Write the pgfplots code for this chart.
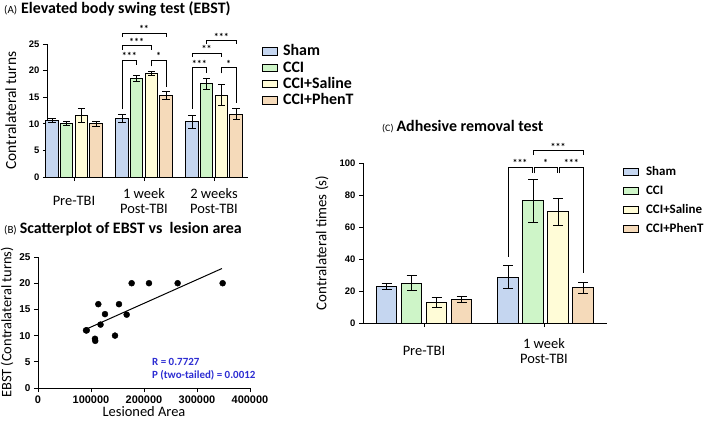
\documentclass[border=0pt]{standalone}
\usepackage{pgfplots}
\usepackage{pgfplotstable}
\pgfplotsset{compat=1.18}
\usepackage{fontspec}
\setmainfont{Carlito}
\newfontfamily\arialf{Liberation Sans}
\definecolor{cSham}{RGB}{197,214,240}
\definecolor{cCCI}{RGB}{206,245,200}
\definecolor{cSal}{RGB}{255,252,215}
\definecolor{cPhen}{RGB}{245,218,186}
\definecolor{cBlue}{RGB}{45,45,210}
\newcommand{\fs}[1]{\fontsize{#1}{#1}\selectfont}
% bracket: x1, y1 (left leg end), x2, y2 (right leg end), ytop, xmid, label
\newcommand{\brk}[7]{%
  \draw[line width=0.9bp] (axis cs:#1,#2) -- (axis cs:#1,#5) -- (axis cs:#3,#5) -- (axis cs:#3,#4);
  \node[font=\bfseries\fs{10}, anchor=south, inner sep=0.3bp] at (axis cs:#6,#5) {#7};}
\pgfplotsset{
  panel/.style={scale only axis, anchor=south west, axis lines=left,
    axis line style={line width=1bp,-}, tick style={black,line width=1bp},
    major tick length=4bp, tick align=outside, clip=false,
    /pgf/number format/assume math mode=true,
    yticklabel style={font=\arialf\bfseries\fs{9.5}},
  },
  barser/.style={ybar, bar shift=0pt, draw=black, line width=1bp,
    error bars/.cd, y dir=both, y explicit,
    error bar style={line width=1bp, black},
    error mark options={rotate=90, mark size=#1, line width=1bp, black}},
  boxlegend/.style={legend image code/.code={\draw[##1, draw=black, line width=0.8bp] (0bp,-3.5bp) rectangle (15bp,4bp);}},
}
% Panel A data: x (axis px), value, error
\pgfplotstableread{
x y e
5 10.6 0.4
75 11.0 0.7
145 10.4 1.2
}\aSham
\pgfplotstableread{
x y e
19.7 10.0 0.4
89.7 18.5 0.6
159.7 17.5 1.1
}\aCCI
\pgfplotstableread{
x y e
34.3 11.5 1.3
104.3 19.4 0.4
174.3 15.4 2.0
}\aSal
\pgfplotstableread{
x y e
49 10.0 0.5
119 15.3 0.8
189 11.8 1.0
}\aPhen
% Panel C data
\pgfplotstableread{
x y e
23.5 22.8 2.0
145.1 28.5 7.2
}\cSham
\pgfplotstableread{
x y e
48.5 25.0 4.8
170.1 76.5 13.5
}\cCCI
\pgfplotstableread{
x y e
73.5 12.8 3.0
195.1 69.4 8.7
}\cSal
\pgfplotstableread{
x y e
98.5 14.7 1.6
220.1 22.0 3.4
}\cPhen
\begin{document}
\begin{tikzpicture}
\path[use as bounding box] (0,0) rectangle (709bp,-421bp);
% titles
\node[anchor=west, inner sep=0] at (4bp,-9bp) {{\fs{11}(A)}\hspace{4bp}{\bfseries\fs{16}Elevated body swing test (EBST)}};
\node[anchor=west, inner sep=0] at (4bp,-229bp) {{\fs{11}(B)}\hspace{3bp}{\bfseries\fs{16}Scatterplot of EBST vs\ \ lesion area}};
\node[anchor=west, inner sep=0] at (382bp,-127bp) {{\fs{10}(C)}\hspace{3bp}{\bfseries\fs{16}Adhesive removal test}};

% ---------------- Panel A
\begin{axis}[panel, at={(47bp,-177bp)}, width=201bp, height=133bp,
  xmin=0, xmax=201, ymin=0, ymax=25,
  xtick={27,97,167}, xticklabels={Pre-TBI, 1 week\\Post-TBI, 2 weeks\\Post-TBI},
  xticklabel style={align=center, anchor=center, yshift=-20bp, font=\fs{14.5}},
  ytick={0,5,10,15,20,25},
  ylabel={Contralateral turns},
  ylabel style={at={(axis description cs:-0.18,0.5)}, anchor=center, font=\fs{15.5}},
  boxlegend,
  legend cell align=left,
  legend style={at={(1.07,1.0)}, anchor=north west, draw=none, fill=none,
    font=\bfseries\fs{16}, inner sep=0pt, row sep=1.3bp,
    nodes={inner sep=1bp, text height=10.5bp, text depth=2.5bp},
    /tikz/every odd column/.append style={column sep=4bp}},
]
\addplot[fill=cSham, bar width=12.5, barser=3.5bp] table[x=x,y=y,y error=e]{\aSham};
\addplot[fill=cCCI, bar width=12.5, barser=3.5bp] table[x=x,y=y,y error=e]{\aCCI};
\addplot[fill=cSal, bar width=12.5, barser=3.5bp] table[x=x,y=y,y error=e]{\aSal};
\addplot[fill=cPhen, bar width=12.5, barser=3.5bp] table[x=x,y=y,y error=e]{\aPhen};
\legend{Sham, CCI, CCI+Saline, CCI+PhenT}
\brk{75}{12.7}{89.7}{21.0}{22.0}{82.3}{***}
\brk{104.3}{20.8}{119}{17.0}{22.0}{111.6}{*}
\brk{75}{23.9}{104.3}{23.9}{24.7}{89.6}{***}
\brk{75}{26.3}{119}{26.3}{27.0}{97}{**}
\brk{145}{12.8}{159.7}{19.6}{20.5}{152.3}{***}
\brk{174.3}{19.5}{189}{14.0}{20.5}{181.6}{*}
\brk{145}{22.6}{174.3}{22.6}{23.3}{159.6}{**}
\brk{159.7}{25.0}{189}{25.0}{25.6}{174.3}{***}
\end{axis}

% ---------------- Panel B
\begin{axis}[panel, at={(38bp,-388bp)}, width=212bp, height=131bp,
  xmin=0, xmax=400000, ymin=0, ymax=25,
  xtick={0,100000,200000,300000,400000}, xticklabels={0,100000,200000,300000,400000},
  scaled x ticks=false,
  xticklabel style={font=\arialf\bfseries\fs{11}},
  yticklabel style={font=\arialf\bfseries\fs{10}},
  ytick={0,5,10,15,20,25},
  xlabel={Lesioned Area},
  xlabel style={at={(axis description cs:0.5,-0.18)}, anchor=center, font=\fs{14.5}},
  ylabel={EBST (Contralateral turns)},
  ylabel style={at={(axis description cs:-0.146,0.5)}, anchor=center, font=\fs{14.5}},
]
\addplot[only marks, mark=*, mark size=3bp, black] coordinates {
(90600,11) (92000,11) (107500,9.4) (108000,9.0) (113800,16) (118000,12.1)
(126400,14.1) (145300,10) (152800,16) (167300,14) (176700,20) (209400,20)
(263500,20) (348400,20)};
\addplot[black, line width=1bp, no marks] coordinates {(88000,11.1) (347000,22.8)};
\node[anchor=west, text=cBlue, font=\bfseries\fs{11}, inner sep=0] at (axis cs:215000,5.0) {R = 0.7727};
\node[anchor=west, text=cBlue, font=\bfseries\fs{11}, inner sep=0] at (axis cs:215000,2.5) {P (two-tailed) = 0.0012};
\end{axis}

% ---------------- Panel C
\begin{axis}[panel, at={(363bp,-323bp)}, width=244bp, height=160bp,
  xmin=0, xmax=244, ymin=0, ymax=100,
  xtick={61,181}, xticklabels={Pre-TBI, 1 week\\Post-TBI},
  xticklabel style={align=center, anchor=center, yshift=-24bp, font=\fs{14.5}},
  ytick={0,20,40,60,80,100},
  ylabel={Contralateral times (s)},
  ylabel style={at={(axis description cs:-0.168,0.5)}, anchor=center, font=\fs{15}},
  boxlegend,
  legend cell align=left,
  legend style={at={(1.066,0.985)}, anchor=north west, draw=none, fill=none,
    font=\bfseries\fs{13}, inner sep=0pt, row sep=6bp,
    nodes={inner sep=1bp, text height=9bp, text depth=2bp},
    /tikz/every odd column/.append style={column sep=6bp}},
]
\addplot[fill=cSham, bar width=20.5, barser=5bp] table[x=x,y=y,y error=e]{\cSham};
\addplot[fill=cCCI, bar width=20.5, barser=5bp] table[x=x,y=y,y error=e]{\cCCI};
\addplot[fill=cSal, bar width=20.5, barser=5bp] table[x=x,y=y,y error=e]{\cSal};
\addplot[fill=cPhen, bar width=20.5, barser=5bp] table[x=x,y=y,y error=e]{\cPhen};
\legend{Sham, CCI, CCI+Saline, CCI+PhenT}
\brk{145.1}{41.5}{169}{93.5}{97.3}{157}{***}
\brk{171.5}{93.5}{194}{93.5}{97.3}{182.7}{*}
\brk{196.5}{93.5}{220.1}{31}{97.3}{208.3}{***}
\brk{170.1}{105}{220.1}{105}{107.7}{195.1}{***}
\end{axis}
\end{tikzpicture}
\end{document}
